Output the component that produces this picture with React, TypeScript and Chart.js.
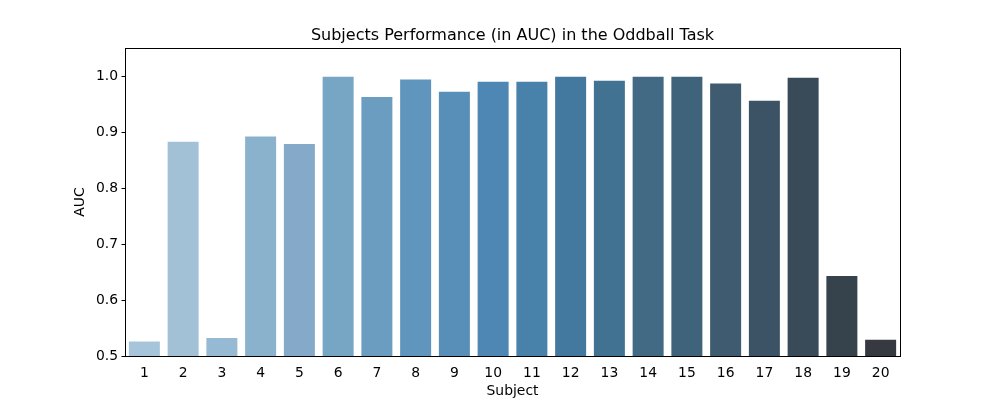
import React, { useEffect, useRef } from "react";
import { Chart, registerables } from "chart.js";

Chart.register(...registerables);

const subjects = ["1","2","3","4","5","6","7","8","9","10","11","12","13","14","15","16","17","18","19","20"];
const aucValues = [0.526, 0.883, 0.532, 0.892, 0.879, 0.999, 0.963, 0.994, 0.972, 0.990, 0.990, 0.999, 0.992, 0.999, 0.999, 0.987, 0.956, 0.997, 0.643, 0.529];
const barColors = [
  "#a7c5da", "#a2c1d6", "#96bad3", "#8bb2cc", "#84a9c9",
  "#77a6c4", "#6b9dc0", "#6096bd", "#578fb8", "#4e87b3",
  "#4882ab", "#44799f", "#427292", "#426a85", "#40637c",
  "#3e5b6f", "#3b5365", "#394a59", "#36424c", "#363a40",
];
const yTicks = [0.5, 0.6, 0.7, 0.8, 0.9, 1.0];

const FONT = "'DejaVu Sans', sans-serif";

const framePlugin = {
  id: "frame",
  afterDraw(chart: any) {
    const { ctx, chartArea } = chart;
    ctx.save();
    ctx.strokeStyle = "#000";
    ctx.lineWidth = 1;
    ctx.strokeRect(
      Math.round(chartArea.left) + 0.5,
      Math.round(chartArea.top) + 0.5,
      Math.round(chartArea.right - chartArea.left),
      Math.round(chartArea.bottom - chartArea.top)
    );
    ctx.restore();
  },
};

export default function App() {
  const ref = useRef<HTMLCanvasElement | null>(null);
  useEffect(() => {
    if (!ref.current) return;
    const chart = new Chart(ref.current, {
      type: "bar",
      data: {
        labels: subjects,
        datasets: [
          {
            label: "AUC",
            data: aucValues,
            backgroundColor: barColors,
            borderWidth: 0,
            barPercentage: 0.8,
            categoryPercentage: 1.0,
          },
        ],
      },
      options: {
        responsive: false,
        animation: false,
        layout: { padding: { left: 67.7, right: 100, top: 0, bottom: 0 } },
        plugins: {
          legend: { display: false },
          tooltip: { enabled: false },
          title: {
            display: true,
            text: "Subjects Performance (in AUC) in the Oddball Task",
            fullSize: false,
            color: "#000",
            font: { family: FONT, size: 16, weight: "normal" },
            padding: { top: 26.4, bottom: 2.6 },
          },
        },
        scales: {
          x: {
            grid: { display: false, drawOnChartArea: false, drawTicks: true, tickLength: 3.5, color: "#000" },
            border: { display: true, color: "#000", width: 1 },
            ticks: { color: "#000", font: { family: FONT, size: 13.9 }, padding: 5.5, maxRotation: 0, autoSkip: false },
            title: { display: true, text: "Subject", color: "#000", font: { family: FONT, size: 13.9 }, padding: { top: 0, bottom: 0 } },
            afterFit: (s: any) => { s.height = 44; },
          },
          y: {
            min: 0.5,
            max: 1.05,
            grid: { display: true, drawOnChartArea: false, drawTicks: true, tickLength: 3.5, color: "#000" },
            border: { display: true, color: "#000", width: 1 },
            ticks: {
              color: "#000",
              font: { family: FONT, size: 13.9 },
              padding: 3.5,
              callback: (v: any) => Number(v).toFixed(1),
            },
            afterBuildTicks: (s: any) => { s.ticks = yTicks.map((v) => ({ value: v })); },
            title: { display: true, text: "AUC", color: "#000", font: { family: FONT, size: 13.9 }, padding: { top: 4, bottom: 4 } },
            afterFit: (s: any) => { s.width = 57.3; },
          },
        },
      },
      plugins: [framePlugin],
    });
    return () => chart.destroy();
  }, []);
  return (
    <div style={{ position: "fixed", left: 0, top: 0, width: 1000, height: 400, background: "#fff" }}>
      <canvas ref={ref} width={1000} height={400} style={{ width: 1000, height: 400, display: "block" }} />
    </div>
  );
}
